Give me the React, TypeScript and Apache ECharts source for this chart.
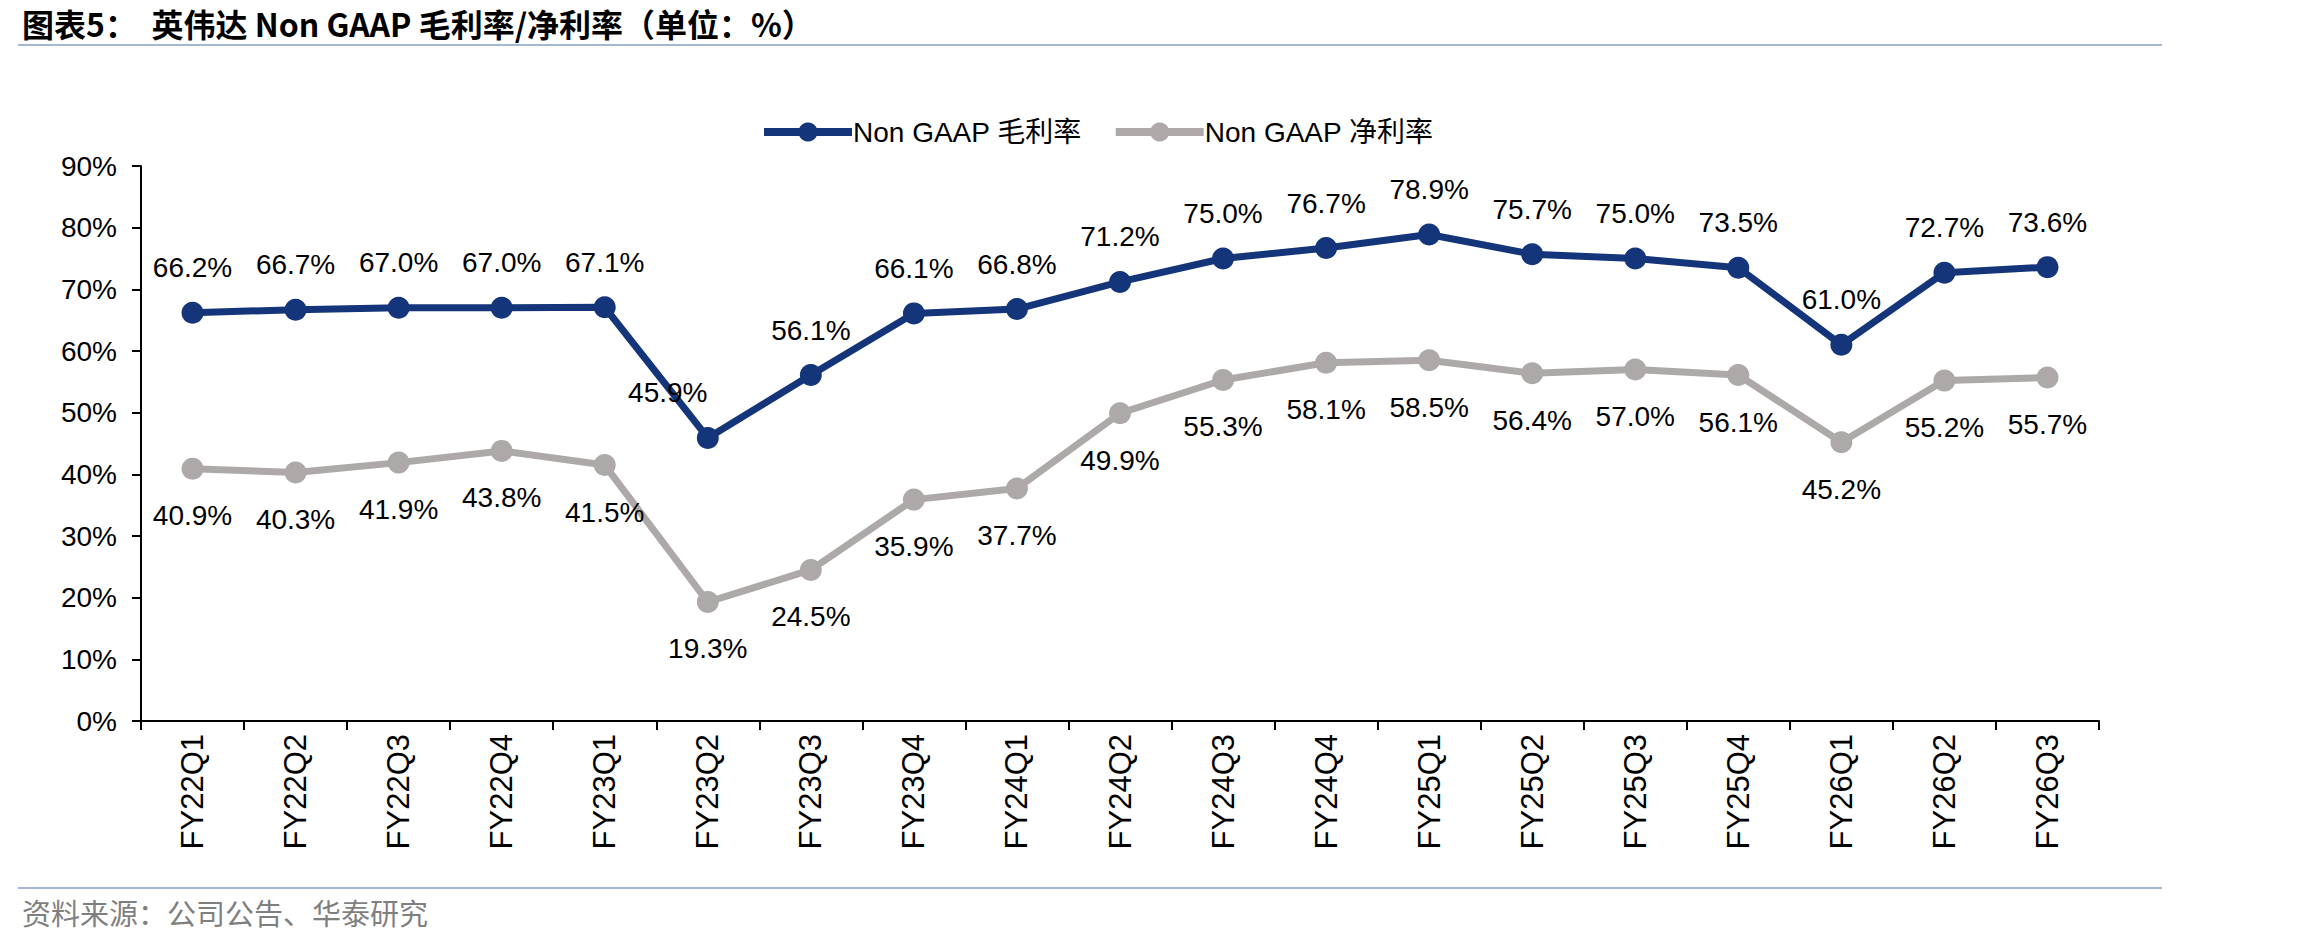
import React, { useEffect, useRef } from "react";
import * as echarts from "echarts";

const categories = [
  "FY22Q1", "FY22Q2", "FY22Q3", "FY22Q4", "FY23Q1", "FY23Q2", "FY23Q3", "FY23Q4",
  "FY24Q1", "FY24Q2", "FY24Q3", "FY24Q4", "FY25Q1", "FY25Q2", "FY25Q3", "FY25Q4",
  "FY26Q1", "FY26Q2", "FY26Q3",
];
const grossMargin = [66.2, 66.7, 67.0, 67.0, 67.1, 45.9, 56.1, 66.1, 66.8, 71.2, 75.0, 76.7, 78.9, 75.7, 75.0, 73.5, 61.0, 72.7, 73.6];
const netMargin = [40.9, 40.3, 41.9, 43.8, 41.5, 19.3, 24.5, 35.9, 37.7, 49.9, 55.3, 58.1, 58.5, 56.4, 57.0, 56.1, 45.2, 55.2, 55.7];
const seriesNames = ["Non GAAP 毛利率", "Non GAAP 净利率"];
const titleText = "图表5：  英伟达 Non GAAP 毛利率/净利率（单位：%）";
const sourceText = "资料来源：公司公告、华泰研究";

const BLUE = "#14357A";
const GRAY = "#ADA9A8";
const FONT = "'Liberation Sans', Arial, 'Noto Sans CJK SC', sans-serif";

export default function App() {
  const ref = useRef<HTMLDivElement>(null);
  useEffect(() => {
    document.body.style.margin = "0";
    const chart = echarts.init(ref.current!, null, { renderer: "svg" });
    const fmt = (p: any) => `${Number(p.value).toFixed(1)}%`;
    chart.setOption({
      animation: false,
      backgroundColor: "#ffffff",
      textStyle: { fontFamily: FONT },
      legend: {
        left: 755,
        top: 113,
        itemWidth: 88,
        itemHeight: 24,
        itemGap: 30,
        lineStyle: { width: 8 },
        textStyle: { fontSize: 28, color: "#000", fontFamily: FONT, padding: [0, 0, 0, -4] },
        data: seriesNames,
      },
      grid: { left: 141, right: 199, top: 166, bottom: 225, containLabel: false },
      xAxis: {
        type: "category",
        data: categories,
        boundaryGap: true,
        axisLine: { lineStyle: { color: "#000", width: 2 } },
        axisTick: { show: true, length: 9, lineStyle: { color: "#000", width: 2 } },
        axisLabel: { rotate: 90, fontSize: 31, color: "#000", margin: 13, fontFamily: FONT },
      },
      yAxis: {
        type: "value",
        min: 0,
        max: 90,
        interval: 10,
        splitLine: { show: false },
        axisLine: { show: true, lineStyle: { color: "#000", width: 2 } },
        axisTick: { show: true, length: 9, lineStyle: { color: "#000", width: 2 } },
        axisLabel: { formatter: "{value}%", fontSize: 28, color: "#000", margin: 24, fontFamily: FONT },
      },
      series: [
        {
          name: seriesNames[0],
          type: "line",
          data: grossMargin.map((v, i) =>
            i === 5 ? { value: v, label: { offset: [-40, 0] } } : v
          ),
          color: BLUE,
          lineStyle: { width: 7, color: BLUE },
          symbol: "circle",
          symbolSize: 22,
          itemStyle: { color: BLUE },
          label: { show: true, position: "top", distance: 20, fontSize: 28, color: "#000", formatter: fmt, fontFamily: FONT },
          z: 3,
        },
        {
          name: seriesNames[1],
          type: "line",
          data: netMargin,
          color: GRAY,
          lineStyle: { width: 7, color: GRAY },
          symbol: "circle",
          symbolSize: 22,
          itemStyle: { color: GRAY },
          label: { show: true, position: "bottom", distance: 22, fontSize: 28, color: "#000", formatter: fmt, fontFamily: FONT },
          z: 2,
        },
      ],
      graphic: [
        {
          type: "text",
          x: 22,
          y: 23,
          style: {
            text: titleText,
            fontSize: 32,
            fontWeight: "bold",
            fill: "#000",
            verticalAlign: "middle",
            fontFamily: "'Noto Sans CJK SC', sans-serif",
          },
        },
        {
          type: "line",
          shape: { x1: 18, y1: 45, x2: 2162, y2: 45 },
          style: { stroke: "#A3B6D2", lineWidth: 2 },
        },
        {
          type: "line",
          shape: { x1: 18, y1: 888, x2: 2162, y2: 888 },
          style: { stroke: "#A3B6D2", lineWidth: 2 },
        },
        {
          type: "text",
          left: 22,
          top: 897,
          style: { text: sourceText, fontSize: 29, fill: "#7F7F7F", fontFamily: "'Noto Sans CJK SC', sans-serif" },
        },
      ],
    });
    return () => chart.dispose();
  }, []);
  return <div ref={ref} style={{ width: 2298, height: 946 }} />;
}
